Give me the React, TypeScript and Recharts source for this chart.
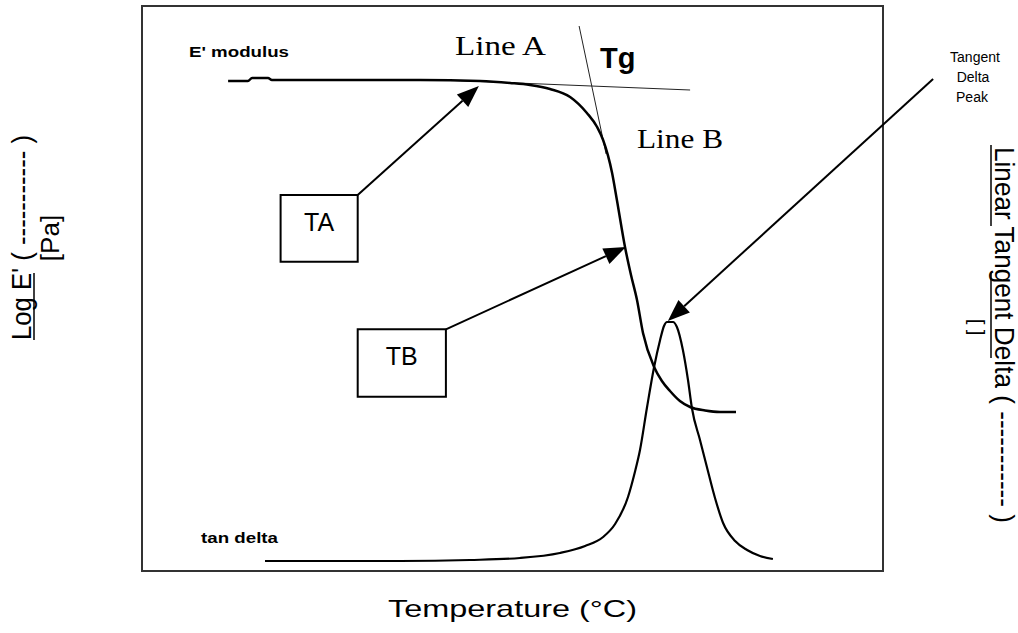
import React from 'react';
import { ComposedChart, Line, XAxis, YAxis, ReferenceLine, ReferenceArea } from 'recharts';

// hidden axes: temperature (°C), log E' (log Pa), linear tan delta
const temperatureDomain: [number, number] = [0, 247];
const logModulusDomain: [number, number] = [4.35, 10];
const tanDeltaDomain: [number, number] = [0, 1.13];

// E' modulus curve
const modulusTemps = [28.7, 35.3, 36.7, 42, 43.3, 69.3, 92.7, 112.7, 122.7, 129.3, 136, 142.7, 148.3, 151.7, 153.7, 156.7, 158.3, 161, 163, 165, 167, 170.7, 173.3, 176, 179.3, 182.7, 187.7, 192.7, 198];
const modulusLogE = [9.25, 9.25, 9.28, 9.28, 9.26, 9.26, 9.26, 9.25, 9.23, 9.21, 9.17, 9.09, 8.93, 8.79, 8.66, 8.33, 8.06, 7.59, 7.31, 7.06, 6.73, 6.39, 6.25, 6.15, 6.05, 5.99, 5.955, 5.94, 5.94];

// tan delta curve
const tanDeltaTemps = [41, 86, 109.3, 126, 139.3, 147.7, 153.7, 157.7, 162, 164.3, 166, 168.3, 170.7, 172.7, 174, 175, 177, 178.3, 180.3, 182, 183.3, 186, 188.3, 191, 193.7, 197.7, 201.7, 206, 210.3];
const tanDeltaValues = [0.02, 0.02, 0.022, 0.026, 0.036, 0.05, 0.068, 0.094, 0.148, 0.198, 0.242, 0.326, 0.408, 0.462, 0.49, 0.498, 0.498, 0.488, 0.442, 0.382, 0.326, 0.262, 0.208, 0.146, 0.096, 0.06, 0.042, 0.03, 0.024];

// construction lines (temp, logE)
const tangentLines = [
  { name: 'Line A', from: [104.3, 9.255], to: [182.7, 9.16] },
  { name: 'Line B', from: [145.7, 9.8], to: [154.7, 8.52] },
];

// annotation arrows, pointing at `to`
const arrows = [
  { name: 'TA', from: [71.9, 8.11], to: [112.3, 9.2] },
  { name: 'TB', from: [101.3, 6.767], to: [161.3, 7.59] },
  { name: 'peak', from: [263.7, 9.27], to: [175.3, 6.85] },
];

// boxes: [tempStart, tempEnd, logE top, logE bottom]
const boxes = [
  { label: 'TA', span: [46.2, 71.9, 8.11, 7.443] },
  { label: 'TB', span: [71.9, 101.3, 6.767, 6.093] },
];

const modulusData = modulusTemps.map((t, i) => ({ temp: t, logE: modulusLogE[i] }));
const tanDeltaData = tanDeltaTemps.map((t, i) => ({ temp: t, tan: tanDeltaValues[i] }));

const SANS = '"Liberation Sans", Arial, sans-serif';
const SERIF = '"Liberation Serif", "Times New Roman", serif';

function ArrowShape(props: any) {
  const { x1, y1, x2, y2 } = props;
  const dx = x2 - x1;
  const dy = y2 - y1;
  const len = Math.sqrt(dx * dx + dy * dy) || 1;
  const ux = dx / len;
  const uy = dy / len;
  const headLen = 22;
  const halfW = 8.5;
  const bx = x2 - ux * headLen;
  const by = y2 - uy * headLen;
  const pts = [
    `${x2},${y2}`,
    `${bx - uy * halfW},${by + ux * halfW}`,
    `${bx + uy * halfW},${by - ux * halfW}`,
  ].join(' ');
  return (
    <g>
      <line x1={x1} y1={y1} x2={bx} y2={by} stroke="#000" strokeWidth={2} />
      <polygon points={pts} fill="#000" />
    </g>
  );
}

export default function App() {
  return (
    <div style={{ position: 'absolute', left: 0, top: 0, width: 1018, height: 633, background: '#fff' }}>
      <ComposedChart
        width={1018}
        height={633}
        margin={{ top: 6, right: 135, bottom: 62, left: 142 }}
      >
        <XAxis type="number" dataKey="temp" domain={temperatureDomain} allowDataOverflow hide />
        <YAxis yAxisId="left" type="number" domain={logModulusDomain} allowDataOverflow hide />
        <YAxis yAxisId="right" orientation="right" type="number" domain={tanDeltaDomain} allowDataOverflow hide />

        <ReferenceArea
          yAxisId="left"
          x1={temperatureDomain[0]}
          x2={temperatureDomain[1]}
          y1={logModulusDomain[0]}
          y2={logModulusDomain[1]}
          fill="none"
          fillOpacity={0}
          stroke="#333"
          strokeWidth={2}
          ifOverflow="visible"
        />

        {tangentLines.map((l) => (
          <ReferenceLine
            key={l.name}
            yAxisId="left"
            segment={[{ x: l.from[0], y: l.from[1] }, { x: l.to[0], y: l.to[1] }]}
            stroke="#222"
            strokeWidth={1}
            ifOverflow="visible"
          />
        ))}

        <Line
          data={modulusData}
          dataKey="logE"
          yAxisId="left"
          type="monotone"
          stroke="#000"
          strokeWidth={2.5}
          dot={false}
          activeDot={false}
          isAnimationActive={false}
        />
        <Line
          data={tanDeltaData}
          dataKey="tan"
          yAxisId="right"
          type="monotone"
          stroke="#000"
          strokeWidth={2.2}
          dot={false}
          activeDot={false}
          isAnimationActive={false}
        />

        {boxes.map((b) => (
          <ReferenceArea
            key={b.label}
            yAxisId="left"
            x1={b.span[0]}
            x2={b.span[1]}
            y1={b.span[3]}
            y2={b.span[2]}
            fill="#fff"
            fillOpacity={1}
            stroke="#000"
            strokeWidth={2}
            ifOverflow="visible"
            label={{ value: b.label, position: 'insideTop', offset: 18, fontSize: 25, fill: '#000', fontFamily: SANS }}
          />
        ))}

        {arrows.map((a) => (
          <ReferenceLine
            key={a.name}
            yAxisId="left"
            segment={[{ x: a.from[0], y: a.from[1] }, { x: a.to[0], y: a.to[1] }]}
            stroke="#000"
            ifOverflow="visible"
            shape={(p: any) => <ArrowShape {...p} />}
          />
        ))}
      </ComposedChart>

      <svg
        width={1018}
        height={633}
        style={{ position: 'absolute', left: 0, top: 0, pointerEvents: 'none' }}
      >
        <text x={189} y={57} fontFamily={SANS} fontWeight="bold" fontSize={15} textLength={100} lengthAdjust="spacingAndGlyphs">E' modulus</text>
        <text x={201} y={543} fontFamily={SANS} fontWeight="bold" fontSize={15} textLength={77} lengthAdjust="spacingAndGlyphs">tan delta</text>
        <text x={455} y={55} fontFamily={SERIF} fontSize={27} textLength={91} lengthAdjust="spacingAndGlyphs">Line A</text>
        <text x={637} y={148} fontFamily={SERIF} fontSize={27} textLength={86} lengthAdjust="spacingAndGlyphs">Line B</text>
        <text x={600} y={68} fontFamily={SANS} fontWeight="bold" fontSize={29}>Tg</text>

        <g fontFamily={SANS} fontSize={14} textAnchor="middle">
          <text x={975} y={62}>Tangent</text>
          <text x={973} y={82}>Delta</text>
          <text x={972} y={102}>Peak</text>
        </g>

        <text x={388} y={617} fontFamily={SANS} fontSize={24} textLength={249} lengthAdjust="spacingAndGlyphs">Temperature (°C)</text>

        {/* left axis title */}
        <text transform="translate(31,340) rotate(-90)" fontFamily={SANS} fontSize={27} textLength={205} lengthAdjust="spacingAndGlyphs">Log E' ( ----------- )</text>
        <text transform="translate(59,238) rotate(-90)" fontFamily={SANS} fontSize={26} textAnchor="middle">[Pa]</text>
        <line x1={34} y1={273} x2={34} y2={340} stroke="#000" strokeWidth={1.5} />

        {/* right axis title */}
        <text transform="translate(995,147) rotate(90)" fontFamily={SANS} fontSize={27} textLength={376} lengthAdjust="spacingAndGlyphs">Linear Tangent Delta ( ----------- )</text>
        <text transform="translate(970,327) rotate(90)" fontFamily={SANS} fontSize={20} textAnchor="middle">[ ]</text>
        <line x1={991} y1={145} x2={991} y2={226} stroke="#000" strokeWidth={1.5} />
        <line x1={991} y1={273} x2={991} y2={358} stroke="#000" strokeWidth={1.5} />
      </svg>
    </div>
  );
}
